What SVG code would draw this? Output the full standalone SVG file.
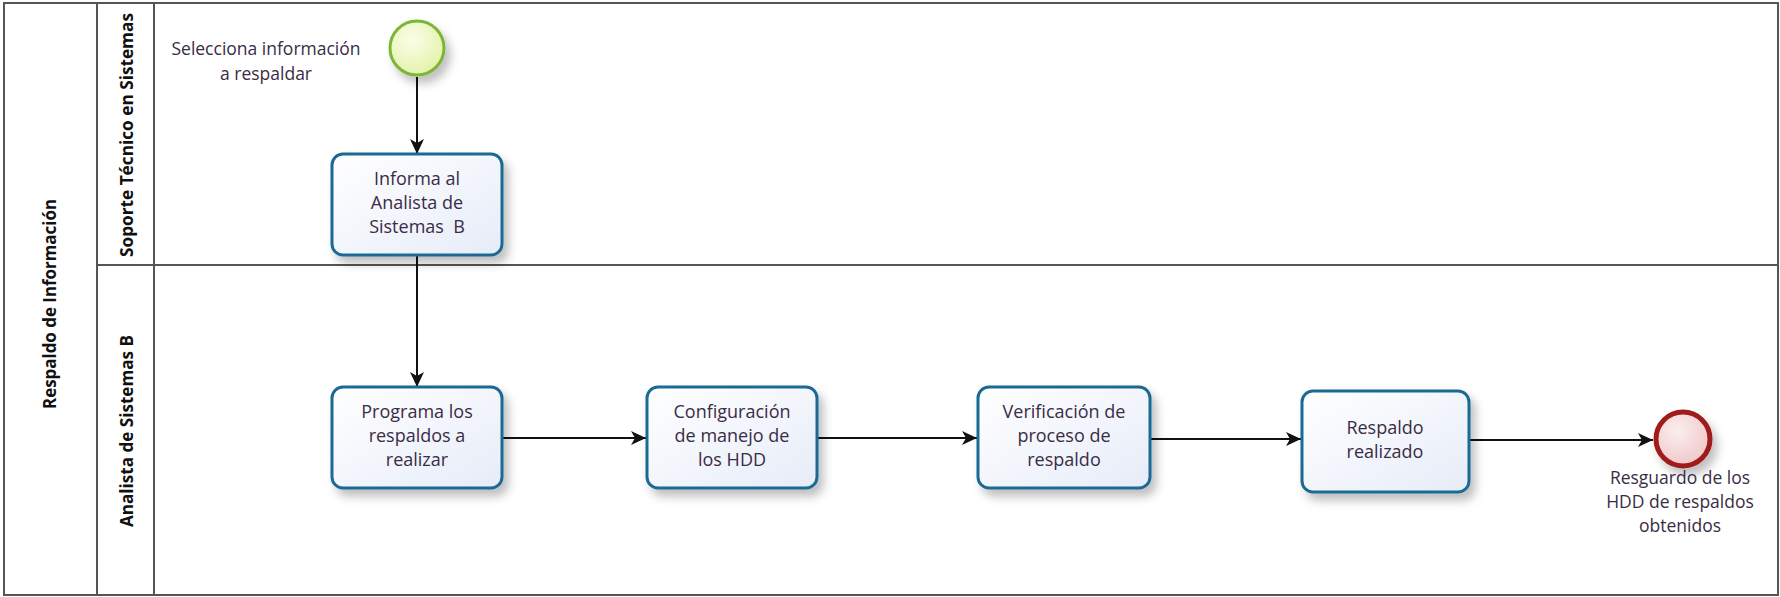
<svg xmlns="http://www.w3.org/2000/svg" width="1780" height="597" viewBox="0 0 1780 597">
<style>
.frame{fill:none;stroke:#555;stroke-width:2}
.task{fill:url(#tg);stroke:#1d6a94;stroke-width:3;filter:url(#sh)}
.tt{font-family:"Open Sans","Noto Sans",sans-serif;font-size:18px;fill:#3a2c45;text-anchor:middle}
.lbl{font-family:"Open Sans","Noto Sans",sans-serif;font-size:17.5px;fill:#3a2c45;text-anchor:middle}
.lane{font-family:"Open Sans","Noto Sans",sans-serif;font-size:18px;font-weight:bold;fill:#111;text-anchor:middle}
.flow{fill:none;stroke:#111;stroke-width:2;marker-end:url(#ah)}
</style>
<defs>
<linearGradient id="tg" x1="0" y1="0" x2="1" y2="1">
<stop offset="0" stop-color="#ffffff"/>
<stop offset="1" stop-color="#e6ecf8"/>
</linearGradient>
<radialGradient id="sg" cx="0.4" cy="0.35" r="0.7">
<stop offset="0" stop-color="#fbfde8"/>
<stop offset="1" stop-color="#e2f2a8"/>
</radialGradient>
<radialGradient id="eg" cx="0.4" cy="0.35" r="0.7">
<stop offset="0" stop-color="#fbeeee"/>
<stop offset="1" stop-color="#efc6c8"/>
</radialGradient>
<filter id="sh" x="-20%" y="-20%" width="150%" height="160%">
<feDropShadow dx="5" dy="7" stdDeviation="5" flood-color="#000" flood-opacity="0.25"/>
</filter>
<marker id="ah" markerWidth="16" markerHeight="16" viewBox="0 0 16 16" refX="15" refY="8" orient="auto" markerUnits="userSpaceOnUse">
<path d="M0,1 L15,8 L0,15 L4,8 Z" fill="#111"/>
</marker>
</defs>
<g id="pool">
<rect class="frame" x="4" y="3" width="1774" height="592"/>
<line class="frame" x1="97" y1="3" x2="97" y2="595"/>
<line class="frame" x1="154" y1="3" x2="154" y2="595"/>
<line class="frame" x1="97" y1="265" x2="1778" y2="265"/>
<text class="lane" transform="translate(56,304) rotate(-90)" textLength="210" lengthAdjust="spacingAndGlyphs">Respaldo de Información</text>
<text class="lane" transform="translate(133,135) rotate(-90)" textLength="244" lengthAdjust="spacingAndGlyphs">Soporte Técnico en Sistemas</text>
<text class="lane" transform="translate(133,431) rotate(-90)" textLength="192" lengthAdjust="spacingAndGlyphs">Analista de Sistemas B</text>
</g>
<g id="connectors">
<path class="flow" d="M417,77 L417,154"/>
<path class="flow" d="M417,255 L417,387"/>
<path class="flow" d="M502,438 L646,438"/>
<path class="flow" d="M817,438 L977,438"/>
<path class="flow" d="M1150,439 L1301,439"/>
<path class="flow" d="M1469,440 L1653,440"/>
</g>
<g id="start">
<circle cx="417" cy="48" r="27" fill="url(#sg)" stroke="#7db536" stroke-width="3" filter="url(#sh)"/>
<text class="lbl" x="266" y="55">Selecciona información</text>
<text class="lbl" x="266" y="80">a respaldar</text>
</g>
<g id="task1">
<rect class="task" x="332" y="154" width="170" height="101" rx="11"/>
<text class="tt" x="417" y="185">Informa al</text>
<text class="tt" x="417" y="209">Analista de</text>
<text class="tt" x="417" y="233" xml:space="preserve">Sistemas  B</text>
</g>
<g id="task2">
<rect class="task" x="332" y="387" width="170" height="101" rx="11"/>
<text class="tt" x="417" y="418">Programa los</text>
<text class="tt" x="417" y="442">respaldos a</text>
<text class="tt" x="417" y="466">realizar</text>
</g>
<g id="task3">
<rect class="task" x="647" y="387" width="170" height="101" rx="11"/>
<text class="tt" x="732" y="418">Configuración</text>
<text class="tt" x="732" y="442">de manejo de</text>
<text class="tt" x="732" y="466">los HDD</text>
</g>
<g id="task4">
<rect class="task" x="978" y="387" width="172" height="101" rx="11"/>
<text class="tt" x="1064" y="418">Verificación de</text>
<text class="tt" x="1064" y="442">proceso de</text>
<text class="tt" x="1064" y="466">respaldo</text>
</g>
<g id="task5">
<rect class="task" x="1302" y="391" width="167" height="101" rx="11"/>
<text class="tt" x="1385" y="434">Respaldo</text>
<text class="tt" x="1385" y="458">realizado</text>
</g>
<g id="end">
<circle cx="1683" cy="439" r="27" fill="url(#eg)" stroke="#a01a1a" stroke-width="5" filter="url(#sh)"/>
<text class="lbl" x="1680" y="484">Resguardo de los</text>
<text class="lbl" x="1680" y="508">HDD de respaldos</text>
<text class="lbl" x="1680" y="532">obtenidos</text>
</g>
</svg>
